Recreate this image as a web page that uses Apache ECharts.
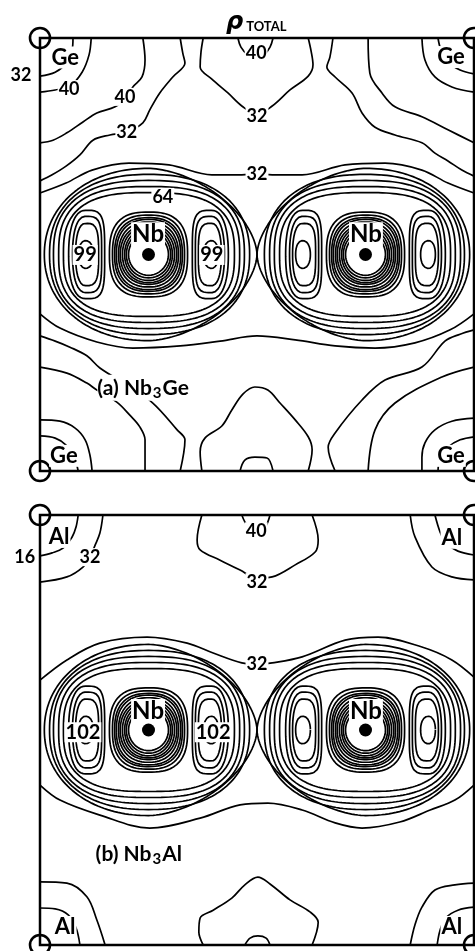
<!DOCTYPE html>
<html>
<head>
<meta charset="utf-8">
<script src="https://cdn.jsdelivr.net/npm/echarts/dist/echarts.min.js"></script>
<style>
  html, body { margin: 0; padding: 0; background: #fff; }
  #chart { width: 475px; height: 951px; }
</style>
</head>
<body>
<div id="chart"></div>
<script>
// Cell coordinates are fractions of the cubic lattice constant (x right, y down).
const nbSites = [[0.25, 0.5], [0.75, 0.5]];
const cornerSites = [[0, 0], [1, 0], [0, 1], [1, 1]];

// Nb core shells: half-width, half-height, squareness
const coreRx = [0.046, 0.051, 0.055, 0.060, 0.065, 0.069, 0.074, 0.078, 0.083, 0.090];
const coreRy = [0.048, 0.054, 0.060, 0.065, 0.069, 0.075, 0.081, 0.085, 0.091, 0.098];
const coreN  = [2.0, 2.05, 2.1, 2.15, 2.2, 2.3, 2.4, 2.5, 2.6, 2.7];

// d-lobes beside each Nb along the chain
const lobeOffset = 0.145;
const lobeRout = [0.039, 0.030, 0.023, 0.016];
const lobeRin  = [0.044, 0.037, 0.030, 0.018];
const lobeRy   = [0.102, 0.088, 0.072, 0.032];
const lobeNout = [2.3, 2.3, 2.3, 2.2];
const lobeNin  = [4.0, 4.0, 3.5, 2.2];

// shells enclosing Nb and both lobes (outer side / saddle side)
const ovalRout = [0.196, 0.207, 0.219, 0.228, 0.240];
const ovalRin  = [0.198, 0.210, 0.221, 0.233, 0.250];
const ovalRy   = [0.143, 0.157, 0.171, 0.185, 0.199];
const ovalNout = [2.8, 2.7, 2.5, 2.3, 2.1];
const ovalNin  = [2.8, 2.7, 2.5, 2.3, 1.7];

// ---- (a) Nb3Ge open contours ----
const geInnerTL = [[0,.088],[.035,.079],[.060,.058],[.074,.028],[.076,0]];
const ge40TL = [[.118,0],[.113,.039],[.097,.079],[.069,.111],[.035,.120],[0,.125]];
const a40UpperLeft = [[.237,0],[.242,.051],[.235,.090],[.214,.113],[.200,.136],[.173,.159],[.131,.173],[.099,.194],[.062,.219],[.030,.236],[0,.242]];
const a32UpperLeft = [[.323,0],[.329,.035],[.334,.058],[.306,.090],[.276,.127],[.253,.166],[.237,.196],[.200,.217],[.161,.224],[.122,.236],[.092,.270],[.060,.296],[.028,.316],[0,.330]];
const a32TopU = [[.376,0],[.371,.032],[.369,.067],[.396,.095],[.433,.127],[.465,.157],[.5,.176],[.535,.157],[.576,.120],[.618,.088],[.629,.062],[.625,.032],[.618,0]];
const a40TopU = [[.456,0],[.463,.021],[.479,.039],[.498,.046],[.516,.039],[.530,.021],[.537,0]];
const a32UpperRight = [[.675,0],[.668,.044],[.661,.067],[.680,.090],[.719,.127],[.742,.173],[.772,.206],[.818,.224],[.880,.242],[.910,.266],[.940,.284],[.972,.305],[1,.319]];
const a40UpperRight = [[.756,0],[.760,.081],[.788,.127],[.818,.159],[.880,.182],[.940,.212],[1,.242]];
const ge40TR = [[.880,0],[.887,.051],[.910,.090],[.949,.113],[1,.125]];
const geInnerTR = [[.917,0],[.924,.028],[.940,.055],[.968,.074],[1,.083]];
const a32AboveNb = [[0,.358],[.060,.335],[.120,.305],[.205,.289],[.297,.293],[.396,.316],[.465,.316],[.5,.314],[.535,.316],[.604,.316],[.703,.293],[.795,.289],[.880,.305],[.940,.335],[1,.358]];
const a32BelowNb = [[0,.637],[.046,.670],[.131,.702],[.214,.716],[.323,.711],[.415,.700],[.5,.688],[.588,.697],[.680,.711],[.772,.716],[.864,.704],[.945,.674],[1,.637]];
const geInnerBL = [[0,.919],[.035,.924],[.060,.940],[.078,.965],[.088,1]];
const ge40BL = [[0,.882],[.046,.885],[.081,.901],[.104,.928],[.115,.963],[.120,1]];
const a40LowerLeft = [[0,.760],[.062,.774],[.108,.797],[.131,.813],[.177,.841],[.207,.871],[.230,.898],[.242,.928],[.242,1]];
const a32LowerLeft = [[0,.688],[.035,.700],[.069,.714],[.108,.734],[.138,.762],[.200,.801],[.260,.843],[.316,.905],[.334,.928],[.323,1]];
const a32BottomHill = [[.373,1],[.369,.956],[.380,.924],[.419,.896],[.442,.859],[.468,.822],[.495,.806],[.525,.813],[.553,.843],[.588,.882],[.618,.921],[.627,.951],[.618,1]];
const a40BottomCap = [[.461,1],[.472,.975],[.495,.968],[.523,.970],[.537,1]];
const a32LowerRight = [[1,.674],[.968,.684],[.933,.700],[.880,.760],[.795,.790],[.742,.836],[.680,.912],[.664,.945],[.680,1]];
const a40LowerRight = [[1,.760],[.926,.783],[.818,.843],[.772,.905],[.756,1]];
const ge40BR = [[1,.878],[.949,.885],[.910,.905],[.887,.935],[.880,.968],[.880,1]];
const geInnerBR = [[1,.921],[.968,.928],[.940,.945],[.922,.970],[.917,1]];

// ---- (b) Nb3Al open contours ----
const al16TL = [[0,.095],[.028,.088],[.053,.077],[.074,.051],[.083,.028],[.088,0]];
const al32TL = [[.145,0],[.138,.042],[.127,.070],[.115,.098],[.099,.121],[.062,.144],[0,.156]];
const b40TopU = [[.465,0],[.472,.016],[.484,.033],[.5,.040],[.516,.033],[.525,.016],[.530,0]];
const b32TopU = [[.373,0],[.362,.058],[.369,.081],[.415,.105],[.461,.128],[.5,.147],[.535,.144],[.588,.116],[.634,.086],[.641,.058],[.627,0]];
const al32TR = [[.853,0],[.864,.051],[.903,.121],[.949,.144],[1,.151]];
const al16TR = [[.910,0],[.922,.040],[.935,.065],[.963,.084],[1,.093]];
const b32AboveNb = [[0,.384],[.062,.337],[.138,.298],[.247,.284],[.339,.298],[.399,.321],[.465,.344],[.5,.347],[.535,.344],[.604,.330],[.703,.291],[.779,.284],[.880,.307],[.949,.337],[1,.377]];
const b32BelowNb = [[0,.628],[.046,.663],[.138,.698],[.253,.728],[.369,.705],[.461,.674],[.525,.670],[.604,.686],[.680,.716],[.742,.728],[.829,.714],[.899,.686],[.956,.663],[1,.628]];
const al32BL = [[0,.853],[.062,.856],[.108,.888],[.131,.942],[.150,1]];
const al16BL = [[0,.914],[.035,.916],[.065,.930],[.083,.960],[.092,1]];
const b32BottomHill = [[.376,1],[.366,.970],[.369,.937],[.399,.919],[.442,.891],[.472,.860],[.502,.842],[.530,.858],[.576,.895],[.622,.923],[.641,.947],[.627,1]];
const b40BottomCap = [[.472,1],[.484,.984],[.502,.979],[.521,.984],[.530,1]];
const al32BR = [[.853,1],[.864,.953],[.880,.912],[.910,.872],[.956,.860],[1,.856]];
const al16BR = [[.915,1],[.922,.965],[.935,.937],[.963,.919],[1,.912]];

// contour labels: text, x, y
const aLabels = [
  ['Ge', .058, .045], ['Ge', .947, .044], ['Ge', .055, .965], ['Ge', .947, .965],
  ['32', -.044, .085], ['40', .067, .118], ['40', .196, .136], ['32', .200, .217],
  ['40', .498, .035], ['32', .5, .180], ['32', .5, .314], ['64', .283, .367],
  ['99', .104, .501], ['99', .396, .501], ['Nb', .249, .453], ['Nb', .751, .453]
];
const bLabels = [
  ['Al', .044, .051], ['Al', .949, .053], ['Al', .058, .958], ['Al', .949, .958],
  ['16', -.035, .098], ['32', .115, .098], ['40', .498, .038], ['32', .5, .156], ['32', .5, .346],
  ['102', .099, .505], ['102', .399, .505], ['Nb', .249, .456], ['Nb', .751, .456]
];
const panelTags = [['{t|(a) Nb}{s|3}{t|Ge}', .131, .808], ['{t|(b) Nb}{s|3}{t|Al}', .127, .788]];

const aOpen = [geInnerTL, ge40TL, a40UpperLeft, a32UpperLeft, a32TopU, a40TopU, a32UpperRight, a40UpperRight,
  ge40TR, geInnerTR, a32AboveNb, a32BelowNb, geInnerBL, ge40BL, a40LowerLeft, a32LowerLeft,
  a32BottomHill, a40BottomCap, a32LowerRight, a40LowerRight, ge40BR, geInnerBR];
const bOpen = [al16TL, al32TL, b40TopU, b32TopU, al32TR, al16TR, b32AboveNb, b32BelowNb,
  al32BL, al16BL, b32BottomHill, b40BottomCap, al32BR, al16BR];

// closed superelliptic shell, separate half-widths / exponents left and right
function shell(cx, cy, rxL, rxR, ry, nL, nR) {
  const pts = [];
  const steps = 180;
  for (let i = 0; i <= steps; i++) {
    const t = (i / steps) * 2 * Math.PI;
    const c = Math.cos(t), s = Math.sin(t);
    const right = c >= 0;
    const n = right ? nR : nL;
    const rx = right ? rxR : rxL;
    pts.push([cx + rx * Math.sign(c) * Math.pow(Math.abs(c), 2 / n),
              cy + ry * Math.sign(s) * Math.pow(Math.abs(s), 2 / n)]);
  }
  return pts;
}

function curve(g, pts, smooth) {
  return {
    type: 'line', xAxisIndex: g, yAxisIndex: g, data: pts,
    symbol: 'none', showSymbol: false, smooth: smooth, silent: true, z: 2,
    lineStyle: { color: '#000', width: 1.7, opacity: 1 }
  };
}

function shellsFor(g) {
  const out = [];
  nbSites.forEach(([cx, cy]) => {
    const saddleRight = cx < 0.5;
    coreRx.forEach((rx, i) => out.push(curve(g, shell(cx, cy, rx, rx, coreRy[i], coreN[i], coreN[i]), false)));
    [-1, 1].forEach(side => {
      const lx = cx + side * lobeOffset;
      lobeRout.forEach((ro, i) => {
        const ri = lobeRin[i];
        const pts = side < 0
          ? shell(lx, cy, ro, ri, lobeRy[i], lobeNout[i], lobeNin[i])
          : shell(lx, cy, ri, ro, lobeRy[i], lobeNin[i], lobeNout[i]);
        out.push(curve(g, pts, false));
      });
    });
    ovalRout.forEach((ro, i) => {
      const ri = ovalRin[i];
      const pts = saddleRight
        ? shell(cx, cy, ro, ri, ovalRy[i], ovalNout[i], ovalNin[i])
        : shell(cx, cy, ri, ro, ovalRy[i], ovalNin[i], ovalNout[i]);
      out.push(curve(g, pts, false));
    });
  });
  return out;
}

const labelFont = 'Lato';

function textSizeFor(t) {
  if (t === 'Nb') return 24;
  if (t === 'Ge' || t === 'Al') return 22;
  if (t === '99' || t === '102') return 20;
  return 18;
}

// invisible anchor points that carry text; full opacity so text stays black
const anchorStyle = { color: 'rgba(0,0,0,0)', opacity: 1 };

function labelsFor(g, items) {
  return {
    type: 'scatter', xAxisIndex: g, yAxisIndex: g, symbolSize: 1, clip: false, silent: true, z: 10,
    itemStyle: anchorStyle,
    data: items.map(d => ({
      value: [d[1], d[2]], name: d[0],
      label: { fontSize: textSizeFor(d[0]) }
    })),
    label: {
      show: true, position: 'inside', formatter: '{b}', opacity: 1,
      color: '#000', textBorderWidth: 0,
      fontFamily: labelFont, fontWeight: 'bold', backgroundColor: '#fff', padding: [0, 1]
    }
  };
}

function tagFor(g, tag) {
  return {
    type: 'scatter', xAxisIndex: g, yAxisIndex: g, symbolSize: 1, clip: false, silent: true, z: 10,
    itemStyle: anchorStyle,
    data: [{ value: [tag[1], tag[2]], name: tag[0] }],
    label: {
      show: true, position: 'right', distance: 0, formatter: '{b}', backgroundColor: '#fff',
      color: '#000', opacity: 1,
      rich: {
        t: { fontFamily: labelFont, fontSize: 21, fontWeight: 'bold', color: '#000', lineHeight: 26 },
        s: { fontFamily: labelFont, fontSize: 15, fontWeight: 'bold', color: '#000', lineHeight: 26, padding: [10, 1, 0, 1] }
      }
    }
  };
}

function sitesFor(g) {
  return [
    {
      type: 'scatter', xAxisIndex: g, yAxisIndex: g, data: nbSites, symbol: 'circle',
      symbolSize: 13, itemStyle: { color: '#000', opacity: 1 }, silent: true, z: 6
    },
    {
      type: 'scatter', xAxisIndex: g, yAxisIndex: g, data: cornerSites, symbol: 'circle',
      symbolSize: 20, clip: false, silent: true, z: 8,
      itemStyle: { color: 'rgba(0,0,0,0)', borderColor: '#000', borderWidth: 2.6, opacity: 1 }
    }
  ];
}

const series = [].concat(
  shellsFor(0), aOpen.map(p => curve(0, p, 0.35)), sitesFor(0), [labelsFor(0, aLabels), tagFor(0, panelTags[0])],
  shellsFor(1), bOpen.map(p => curve(1, p, 0.35)), sitesFor(1), [labelsFor(1, bLabels), tagFor(1, panelTags[1])]
);

const axisBase = { type: 'value', min: 0, max: 1, show: false };

const chart = echarts.init(document.getElementById('chart'), null, { renderer: 'canvas' });
chart.setOption({
  animation: false,
  backgroundColor: '#fff',
  title: {
    text: '{r|ρ}{t|TOTAL}', left: 221, top: 6,
    textStyle: {
      rich: {
        r: { fontFamily: 'DejaVu Sans', fontSize: 24, fontStyle: 'italic', fontWeight: 'bold', color: '#000' },
        t: { fontFamily: labelFont, fontSize: 13, fontWeight: 'bold', color: '#000', padding: [8, 0, 0, 3] }
      }
    }
  },
  grid: [
    { left: 40, top: 38, width: 434, height: 433, show: true, borderColor: '#000', borderWidth: 2.5, containLabel: false },
    { left: 40, top: 515, width: 434, height: 430, show: true, borderColor: '#000', borderWidth: 2.5, containLabel: false }
  ],
  xAxis: [Object.assign({ gridIndex: 0 }, axisBase), Object.assign({ gridIndex: 1 }, axisBase)],
  yAxis: [Object.assign({ gridIndex: 0, inverse: true }, axisBase), Object.assign({ gridIndex: 1, inverse: true }, axisBase)],
  series: series
});
</script>
</body>
</html>
